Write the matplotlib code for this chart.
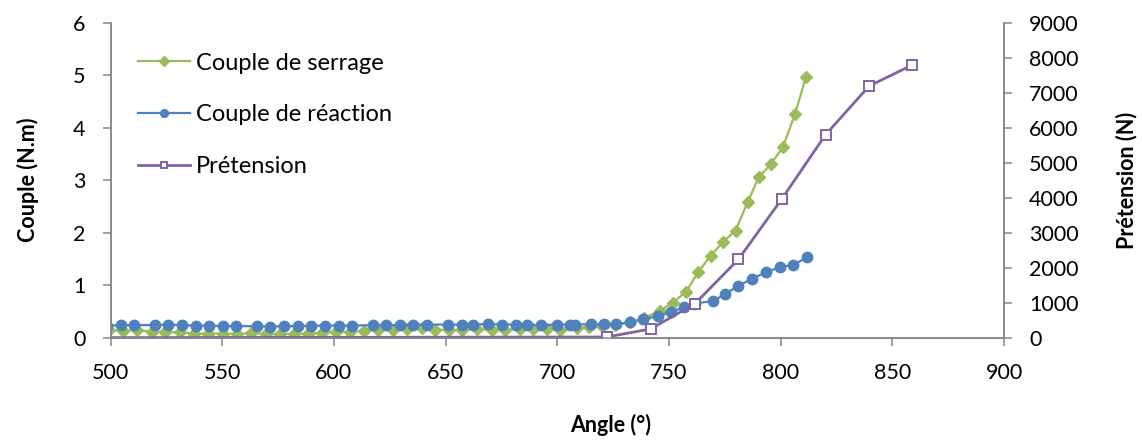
import matplotlib.pyplot as plt

plt.rcParams['font.family'] = ['Lato', 'DejaVu Sans']

# Couple de serrage (N.m)
angle_serrage = [499.2, 505.4, 511.8, 518.4, 524.4, 531.1, 537.5, 543.8, 550.2, 556.7,
                 562.7, 569.4, 575.8, 582.2, 588.2, 594.5, 600.9, 607.2, 613.6, 619.8,
                 626.6, 632.6, 639.3, 645.3, 651.3, 657.2, 664.0, 670.7, 676.6, 683.4,
                 689.3, 695.3, 701.3, 708.7, 714.0, 720.0, 725.9, 732.7, 738.6, 745.9,
                 751.8, 757.7, 763.1, 768.6, 774.1, 779.8, 785.3, 790.2, 795.5, 801.0,
                 806.4, 811.3]
couple_serrage = [0.15, 0.13, 0.15, 0.11, 0.11, 0.10, 0.08, 0.08, 0.08, 0.07,
                  0.09, 0.07, 0.065, 0.08, 0.08, 0.09, 0.11, 0.11, 0.13, 0.15,
                  0.15, 0.16, 0.18, 0.15, 0.15, 0.15, 0.16, 0.15, 0.15, 0.16,
                  0.16, 0.16, 0.15, 0.18, 0.21, 0.22, 0.24, 0.29, 0.37, 0.51,
                  0.67, 0.88, 1.25, 1.56, 1.82, 2.04, 2.59, 3.06, 3.30, 3.63,
                  4.26, 4.96]

# Couple de réaction (N.m)
angle_reaction = [498.4, 504.5, 510.6, 519.9, 525.8, 532.0, 538.1, 544.2, 550.3, 556.3,
                  565.4, 571.5, 577.6, 583.7, 589.8, 596.0, 602.1, 608.2, 617.3, 623.4,
                  629.5, 635.5, 641.7, 650.9, 657.2, 662.4, 669.1, 675.3, 681.3, 686.5,
                  692.8, 699.7, 705.6, 707.9, 714.9, 720.9, 726.5, 732.5, 738.5, 745.2,
                  750.7, 756.8, 761.6, 769.8, 775.1, 781.1, 787.2, 793.4, 799.5, 805.6,
                  811.9]
couple_reaction = [0.23, 0.24, 0.24, 0.24, 0.25, 0.24, 0.23, 0.23, 0.22, 0.22,
                   0.22, 0.21, 0.22, 0.22, 0.23, 0.23, 0.23, 0.23, 0.24, 0.24,
                   0.24, 0.25, 0.25, 0.25, 0.25, 0.25, 0.26, 0.25, 0.25, 0.24,
                   0.24, 0.25, 0.25, 0.25, 0.26, 0.26, 0.27, 0.29, 0.36, 0.41,
                   0.49, 0.58, 0.65, 0.70, 0.83, 0.99, 1.12, 1.25, 1.34, 1.39,
                   1.53]

# Prétension (N)
angle_pretension = [480, 722.1, 741.8, 761.6, 781.1, 800.4, 820.1, 839.6, 858.9]
pretension = [0, 20, 249, 971, 2240, 3954, 5800, 7191, 7791]

green = '#9BBB59'
blue = '#4F81BD'
purple = '#8064A2'
grey = '#868686'

fig, ax1 = plt.subplots(figsize=(11.42, 4.40), dpi=100)
fig.subplots_adjust(left=0.0968, right=0.8792, bottom=0.2325, top=0.9484)
ax2 = ax1.twinx()

l1, = ax1.plot(angle_serrage, couple_serrage, color=green, lw=1.6, marker='D',
               ms=6.3, label='Couple de serrage')
l2, = ax1.plot(angle_reaction, couple_reaction, color=blue, lw=1.6, marker='o',
               ms=7.5, label='Couple de réaction')
l3, = ax2.plot(angle_pretension, pretension, color=purple, lw=2, marker='s',
               ms=6.5, mfc='white', mew=1.4, label='Prétension')

ax1.set_xlim(500, 900)
ax1.set_xticks(range(500, 901, 50))
ax1.set_ylim(0, 6)
ax1.set_yticks(range(0, 7))
ax2.set_ylim(0, 9000)
ax2.set_yticks(range(0, 9001, 1000))

for ax in (ax1, ax2):
    ax.spines['top'].set_visible(False)
    for s in ('left', 'right', 'bottom'):
        ax.spines[s].set_color(grey)
        ax.spines[s].set_linewidth(1.1)
    ax.tick_params(colors=grey, labelcolor='black', width=1.1, length=6,
                   labelsize=15.5, pad=12)

ax1.set_xlabel('Angle (°)', fontsize=15.5, fontweight='bold', va='center')
ax1.xaxis.set_label_coords(0.56, -0.277)
ax1.set_ylabel('Couple (N.m)', fontsize=15.5, fontweight='bold', va='center')
ax1.yaxis.set_label_coords(-0.092, 0.5)
ax2.set_ylabel('Prétension (N)', fontsize=15.5, fontweight='bold', va='center')
ax2.yaxis.set_label_coords(1.1365, 0.5)

ax2.legend(handles=[l1, l2, l3], loc='upper left', bbox_to_anchor=(0.031, 0.905),
           frameon=False, fontsize=17, borderpad=0, borderaxespad=0,
           handlelength=2.2, handletextpad=0.25, labelspacing=1.3, markerscale=0.75)

fig.savefig('out.png', dpi=100)
